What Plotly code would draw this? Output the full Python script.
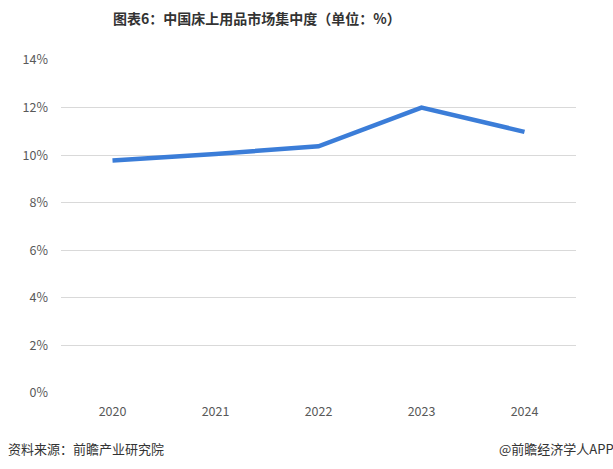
import plotly.graph_objects as go

years = ["2020", "2021", "2022", "2023", "2024"]
concentration = [9.78, 10.05, 10.37, 12.0, 10.98]
y_ticks = [0, 2, 4, 6, 8, 10, 12, 14]
y_tick_labels = [f"{v}%" for v in y_ticks]

title_text = "图表6：中国床上用品市场集中度（单位：%）"
source_text = "资料来源：前瞻产业研究院"
brand_text = "@前瞻经济学人APP"

font_family = "Noto Sans CJK SC, Noto Sans, sans-serif"

fig = go.Figure()
fig.add_trace(go.Scatter(
    x=years, y=concentration, mode="lines",
    line=dict(color="#3b7dd8", width=4.5),
    hoverinfo="x+y",
))

fig.update_layout(
    width=613, height=469,
    margin=dict(l=61, r=37, t=60, b=76),
    paper_bgcolor="white", plot_bgcolor="white",
    showlegend=False,
    font=dict(family=font_family, color="#595959", size=12),
    xaxis=dict(type="category", range=[-0.5, 4.5], showgrid=False,
               showline=False, zeroline=False, ticks="",
               ticklabelstandoff=9,
               tickfont=dict(size=12.5, color="#595959")),
    yaxis=dict(range=[0, 14], tickvals=y_ticks, ticktext=y_tick_labels,
               showgrid=True, gridcolor="#d9d9d9", gridwidth=1,
               zeroline=False, showline=False, ticks="",
               ticklabelstandoff=12,
               tickfont=dict(size=12.5, color="#595959")),
    annotations=[
        dict(text="<b>" + title_text + "</b>", xref="paper", yref="paper",
             x=(257 - 61) / 515, y=1 + (60 - 18) / 333,
             xanchor="center", yanchor="middle", showarrow=False,
             font=dict(size=14, color="#333333")),
        dict(text=source_text, xref="paper", yref="paper",
             x=-55 / 515, y=-55 / 333, xanchor="left", yanchor="middle",
             showarrow=False, font=dict(size=13, color="#333333")),
        dict(text=brand_text, xref="paper", yref="paper",
             x=1 + 40 / 515, y=-55 / 333, xanchor="right", yanchor="middle",
             showarrow=False, font=dict(size=13, color="#333333")),
    ],
)

fig.write_html("out.html")
